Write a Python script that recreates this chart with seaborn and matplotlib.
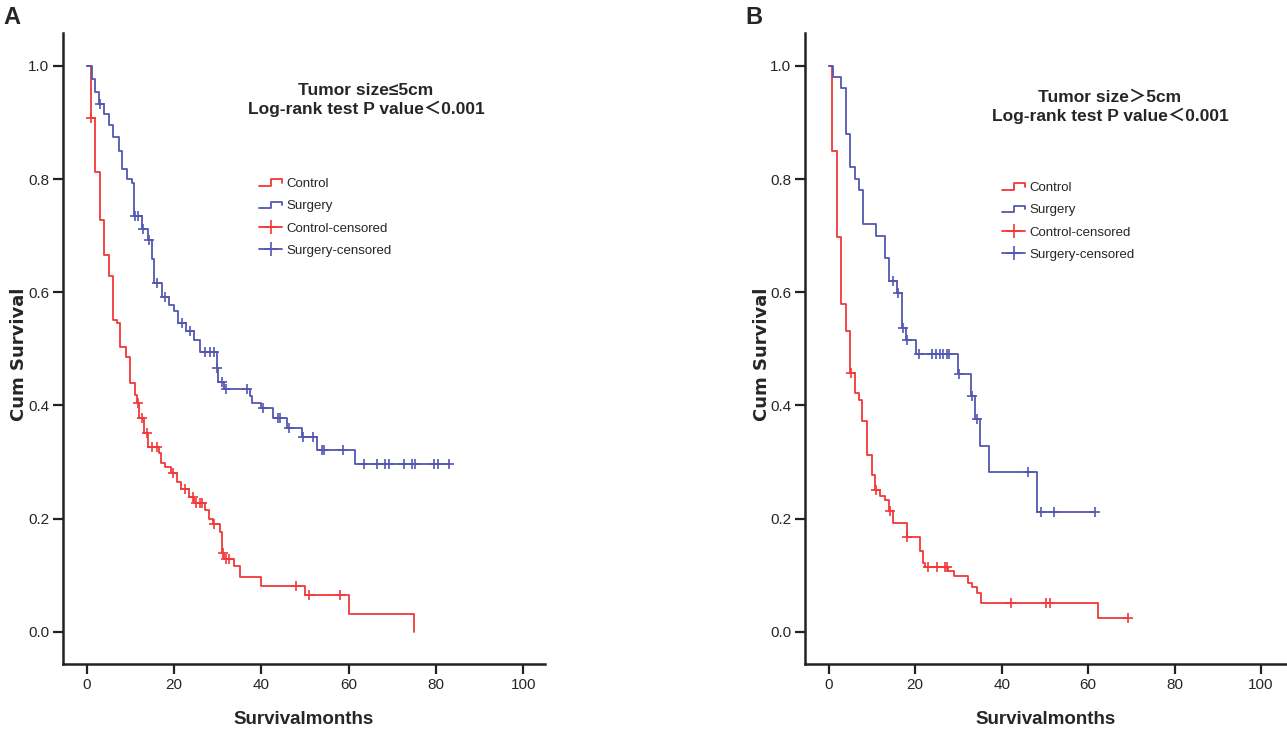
"""Kaplan-Meier curves, surgery vs control, split by tumor size."""

import matplotlib

matplotlib.use("Agg")
import matplotlib.pyplot as plt
import numpy as np
import seaborn as sns
from matplotlib.legend_handler import HandlerBase
from matplotlib.lines import Line2D

# ---- panel A: tumor size <= 5cm -------------------------------------------
ctrl_a_time = [0.85, 1.8, 3.0, 3.9, 5.0, 5.9, 6.8, 7.6, 8.9, 9.9, 10.9, 11.4, 12.0,
               13.1, 14.1, 16.4, 17.0, 17.9, 19.2, 20.6, 21.6, 23.4, 24.6, 27.0,
               28.0, 29.0, 30.5, 31.0, 31.5, 33.6, 35.0, 40.0, 50.0, 60.0, 75.0]
ctrl_a_surv = [0.907, 0.812, 0.727, 0.665, 0.628, 0.551, 0.545, 0.503, 0.485, 0.439,
               0.419, 0.405, 0.377, 0.352, 0.326, 0.315, 0.298, 0.291, 0.280, 0.265,
               0.253, 0.238, 0.228, 0.216, 0.200, 0.190, 0.177, 0.139, 0.128, 0.116,
               0.097, 0.080, 0.065, 0.032, 0.0]
ctrl_a_cens = [0.9, 11.7, 12.5, 13.7, 15.0, 16.0, 19.7, 22.5, 24.2, 24.9, 25.9, 26.3,
               29.2, 31.1, 31.8, 32.6, 48.0, 50.8, 57.9]

surg_a_time = [1.1, 1.8, 2.8, 3.9, 5.0, 6.0, 7.3, 8.0, 9.1, 10.4, 10.7, 12.5, 14.1,
               14.8, 15.4, 17.1, 18.9, 20.0, 20.9, 22.7, 24.5, 25.8, 29.7, 30.1, 31.5,
               37.4, 37.8, 39.8, 42.7, 45.9, 49.2, 52.7, 61.5]
surg_a_surv = [0.977, 0.953, 0.932, 0.914, 0.895, 0.874, 0.850, 0.817, 0.800, 0.793,
               0.734, 0.711, 0.693, 0.658, 0.616, 0.591, 0.578, 0.566, 0.545, 0.531,
               0.515, 0.495, 0.466, 0.442, 0.429, 0.416, 0.405, 0.396, 0.378, 0.360,
               0.345, 0.322, 0.297]
surg_a_cens = [2.9, 11.0, 11.8, 12.9, 14.2, 16.1, 17.9, 21.7, 23.6, 27.1, 28.2, 29.1,
               29.9, 30.9, 31.9, 36.6, 40.4, 43.7, 44.3, 46.4, 49.6, 51.8, 53.8, 54.4,
               58.6, 63.6, 66.5, 68.4, 69.2, 72.6, 74.6, 75.3, 79.5, 80.5, 82.9]

# ---- panel B: tumor size > 5cm --------------------------------------------
ctrl_b_time = [0.8, 1.9, 2.9, 4.0, 5.0, 6.0, 6.9, 7.8, 8.9, 9.9, 10.7, 11.8, 13.0,
               14.0, 14.9, 18.0, 21.0, 21.9, 22.3, 27.5, 29.0, 32.1, 33.1, 34.3,
               35.1, 62.2]
ctrl_b_surv = [0.849, 0.698, 0.580, 0.531, 0.458, 0.422, 0.409, 0.372, 0.313, 0.277,
               0.251, 0.239, 0.232, 0.214, 0.193, 0.167, 0.142, 0.121, 0.115, 0.107,
               0.098, 0.087, 0.079, 0.068, 0.051, 0.025]
ctrl_b_cens = [5.1, 10.9, 14.2, 18.2, 22.9, 25.0, 26.9, 27.3, 42.1, 50.3, 51.2, 69.3]

surg_b_time = [0.9, 2.8, 3.9, 4.9, 6.0, 7.0, 8.0, 10.9, 13.0, 13.9, 15.7, 16.9, 17.9,
               20.1, 29.9, 32.9, 33.9, 35.0, 37.1, 48.2]
surg_b_surv = [0.981, 0.961, 0.880, 0.822, 0.800, 0.780, 0.721, 0.700, 0.661, 0.619,
               0.598, 0.537, 0.515, 0.491, 0.456, 0.417, 0.376, 0.329, 0.282, 0.211]
surg_b_cens = [14.8, 15.9, 17.1, 18.0, 20.9, 23.8, 24.8, 25.8, 26.5, 27.3, 27.9, 30.1,
               33.2, 34.3, 46.1, 49.2, 52.2, 61.6]

PANELS = [
    ("A", "Tumor size\u22645cm", (ctrl_a_time, ctrl_a_surv, ctrl_a_cens),
     (surg_a_time, surg_a_surv, surg_a_cens)),
    ("B", "Tumor size\uff1e5cm", (ctrl_b_time, ctrl_b_surv, ctrl_b_cens),
     (surg_b_time, surg_b_surv, surg_b_cens)),
]
Y_TICKS = [0.0, 0.2, 0.4, 0.6, 0.8, 1.0]
X_TICKS = [0, 20, 40, 60, 80, 100]

RED = "#f23838"
BLUE = "#5257b0"
W, H = 1287, 735

sns.set_style("ticks")
NARROW = ["Liberation Sans Narrow", "Liberation Sans", "DejaVu Sans"]
plt.rcParams["font.family"] = NARROW


def km_steps(times, surv, cens):
    t = np.r_[0.0, times]
    s = np.r_[1.0, surv]
    end = max(cens) if cens else t[-1]
    if end > t[-1]:
        t = np.r_[t, end]
        s = np.r_[s, s[-1]]
    cy = s[np.searchsorted(t, cens, side="right") - 1]
    return t, s, np.asarray(cens), cy


class StepHandler(HandlerBase):
    def create_artists(self, legend, orig_handle, xdescent, ydescent, width, height,
                       fontsize, trans):
        x = np.array([0.0, 0.5, 0.5, 1.0, 1.0]) * width - xdescent
        y = np.array([0.15, 0.15, 0.85, 0.85, 0.45]) * height - ydescent
        line = Line2D(x, y, color=orig_handle.get_color(), lw=orig_handle.get_linewidth())
        line.set_transform(trans)
        return [line]


def fx(px):
    return px / W


def fy(py):
    return 1 - py / H


fig = plt.figure(figsize=(W / 100, H / 100), dpi=100)
lefts = [63, 805]
widths = [482, 482]
xlims = [(-5.5, 105.0), (-5.5, 106.0)]
title_pos = [(366, 100), (1110, 107)]
legend_pos = [(259, 178), (1002, 182)]
letter_x = [3, 745]
ylab_x = [19, 762]

for i, (letter, size_txt, ctrl, surg) in enumerate(PANELS):
    ax = fig.add_axes([fx(lefts[i]), fy(664), widths[i] / W, (664 - 33) / H])
    for (times, surv, cens), color in [(ctrl, RED), (surg, BLUE)]:
        t, s, cx, cy = km_steps(times, surv, cens)
        sns.lineplot(x=t, y=s, drawstyle="steps-post", estimator=None, sort=False,
                     color=color, linewidth=1.3, ax=ax)
        sns.scatterplot(x=cx, y=cy, marker="+", s=60, color=color, linewidth=1.2,
                        ax=ax, zorder=3)

    ax.set_xlim(*xlims[i])
    ax.set_ylim(-0.057, 1.058)
    ax.set_xticks(X_TICKS)
    ax.set_yticks(Y_TICKS)
    ax.set_yticklabels([f"{v:.1f}" for v in Y_TICKS])
    ax.tick_params(axis="both", direction="out", length=7, width=1.6, labelsize=11,
                   color="#222222", pad=3)
    for side in ["left", "bottom"]:
        ax.spines[side].set_linewidth(1.8)
        ax.spines[side].set_color("#222222")
    sns.despine(ax=ax)

    ax.set_xlabel("Survivalmonths", fontsize=13.5, fontweight="bold")
    ax.xaxis.set_label_coords(0.5, -0.074)
    ax.set_ylabel("")

    fig.text(fx(ylab_x[i]), fy(354), "Cum Survival", rotation=90, ha="center",
             va="center", fontsize=13, fontweight="bold", family="DejaVu Sans")
    fig.text(fx(letter_x[i]), fy(17), letter, ha="left", va="center", fontsize=17,
             fontweight="bold", family=["Liberation Sans", "DejaVu Sans"])
    fig.text(fx(title_pos[i][0]), fy(title_pos[i][1]),
             f"{size_txt}\nLog-rank test P value\uff1c0.001", ha="center", va="center",
             fontsize=12.5, fontweight="bold", linespacing=1.25,
             family=NARROW + ["Noto Sans CJK SC"])

    handles = [
        Line2D([], [], color=RED, lw=1.3),
        Line2D([], [], color=BLUE, lw=1.3),
        Line2D([], [], color=RED, lw=1.3, marker="+", markersize=10, mew=1.2),
        Line2D([], [], color=BLUE, lw=1.3, marker="+", markersize=10, mew=1.2),
    ]
    labels = ["Control", "Surgery", "Control-censored", "Surgery-censored"]
    ax.legend(handles, labels, loc="upper left",
              bbox_to_anchor=(fx(legend_pos[i][0]), fy(legend_pos[i][1])),
              bbox_transform=fig.transFigure, frameon=False, fontsize=9.5,
              handlelength=1.75, handletextpad=0.3, labelspacing=0.75, borderpad=0,
              borderaxespad=0, numpoints=1,
              handler_map={handles[0]: StepHandler(), handles[1]: StepHandler()})

fig.savefig("out.png", dpi=100)
